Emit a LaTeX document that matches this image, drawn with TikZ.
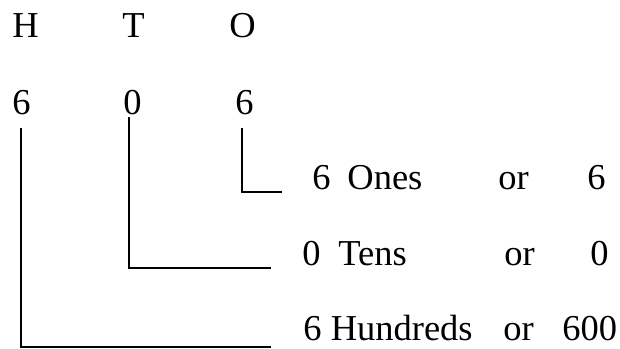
\documentclass[tikz,border=0pt]{standalone}
\usepackage{fontspec}
\setmainfont{Liberation Serif}
\usetikzlibrary{positioning}
\tikzset{
  txt/.style={font=\fontsize{18.25}{22}\selectfont, anchor=base west, inner sep=0pt},
  leader/.style={draw=black, line width=1pt}
}

\begin{document}
\begin{tikzpicture}[x=0.5pt, y=-0.5pt]
    \useasboundingbox (0,0) rectangle (620,348);

    % Place value heads and digits
    \node[txt] (hH) at (12, 37) {H};
    \node[txt] (hT) at (122, 37) {T};
    \node[txt] (hO) at (229, 37) {O};
    \node[txt] (dH) at (12, 114) {6};
    \node[txt] (dT) at (123, 114) {0};
    \node[txt] (dO) at (235, 114) {6};

    % Values of the digits
    \node[txt] (nO) at (312, 189) {6};
    \node[txt] (wO) at (347, 189) {Ones};
    \node[txt] (oO) at (498, 189) {or};
    \node[txt] (vO) at (587, 189) {6};
    \node[txt] (nT) at (302, 265) {0};
    \node[txt] (wT) at (338, 265) {Tens};
    \node[txt] (oT) at (504, 265) {or};
    \node[txt] (vT) at (590, 265) {0};
    \node[txt] (wH) at (303, 340) {6 Hundreds};
    \node[txt] (oH) at (503, 340) {or};
    \node[txt] (vH) at (562, 340) {600};

    % Leader lines
    \coordinate (topO) at (242, 128);
    \coordinate (endO) at (282, 192);
    \coordinate (topT) at (129, 117);
    \coordinate (endT) at (271, 268);
    \coordinate (topH) at (21, 128);
    \coordinate (endH) at (271, 347);
    \draw[leader] (topO) |- (endO);
    \draw[leader] (topT) |- (endT);
    \draw[leader] (topH) |- (endH);
\end{tikzpicture}
\end{document}
